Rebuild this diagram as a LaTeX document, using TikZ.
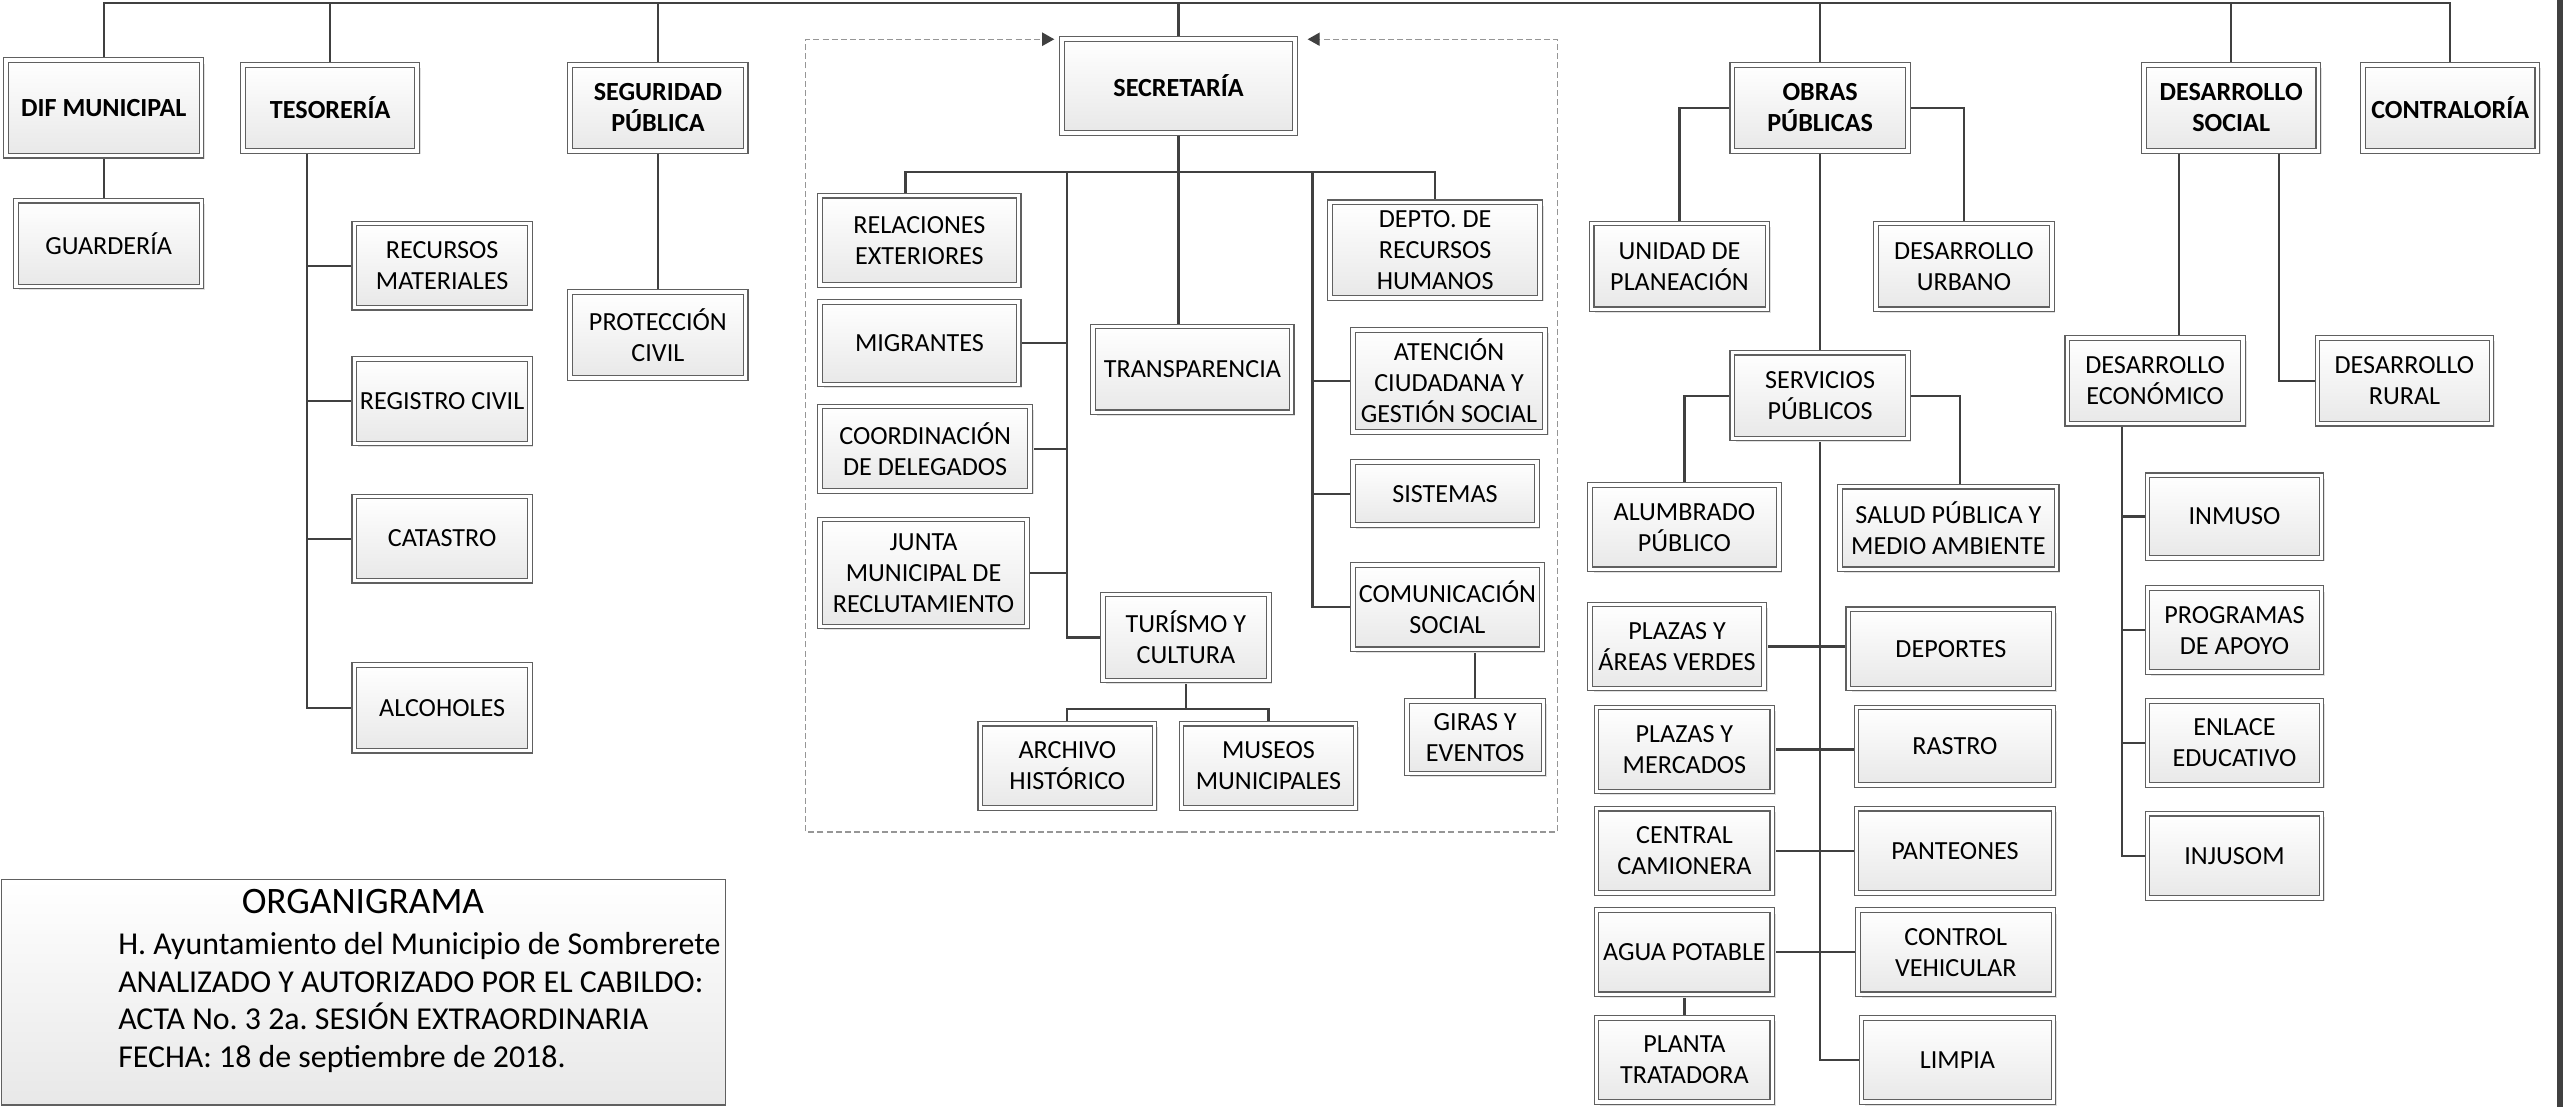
\documentclass[tikz,border=0pt]{standalone}
\usepackage{fontspec}
\setmainfont{Carlito}
\frenchspacing
\usetikzlibrary{arrows.meta,shadows,backgrounds}

\definecolor{linec}{RGB}{64,64,64}
\definecolor{boxc}{RGB}{96,96,96}
\definecolor{framec}{RGB}{150,150,150}

\tikzset{
  unit/.style={draw=boxc, line width=0.4pt, double=white, double distance=1.2pt,
    top color=white, bottom color=black!9, align=center, inner sep=1pt,
    font=\fontsize{9.1}{10.8}\selectfont,
    drop shadow={shadow xshift=1.2pt, shadow yshift=-1.2pt, fill=black!12, opacity=1}},
  head/.style={unit, font=\fontsize{9.1}{10.8}\selectfont\bfseries},
  wh/.style 2 args={minimum width=#1*0.02cm-2pt, minimum height=#2*0.02cm-2pt},
  link/.style={draw=linec, line width=0.75pt},
  frame/.style={draw=framec, line width=0.45pt, dash pattern=on 2.1pt off 1.1pt},
  infobox/.style={draw=boxc, line width=0.5pt, top color=white, bottom color=black!9,
    minimum width=8.86cm, minimum height=2.76cm},
}

\begin{document}
\begin{tikzpicture}[x=0.02cm,y=-0.02cm]
\useasboundingbox (0,0) rectangle (1568,677);

% first level
\node[head,wh={123}{62}] (dif) at (63.5,66) {DIF MUNICIPAL};
\node[head,wh={110}{56}] (teso) at (202,66) {TESORERÍA};
\node[head,wh={111}{56}] (segpub) at (402.5,66) {SEGURIDAD\\PÚBLICA};
\node[head,wh={146}{61}] (secre) at (721,52.5) {SECRETARÍA};
\node[head,wh={111}{56}] (obras) at (1113.5,66) {OBRAS\\PÚBLICAS};
\node[head,wh={110}{56}] (dessoc) at (1365,66) {DESARROLLO\\SOCIAL};
\node[head,wh={110}{56}] (contra) at (1499,66) {CONTRALORÍA};

% dif, tesoreria, seguridad
\node[unit,wh={117}{56}] (guard) at (66.5,149) {GUARDERÍA};
\node[unit,wh={111}{55}] (recmat) at (270.5,162.5) {RECURSOS\\MATERIALES};
\node[unit,wh={111}{55}] (regciv) at (270.5,245.5) {REGISTRO CIVIL};
\node[unit,wh={111}{55}] (catas) at (270.5,329.5) {CATASTRO};
\node[unit,wh={111}{56}] (alco) at (270.5,433) {ALCOHOLES};
\node[unit,wh={111}{56}] (protciv) at (402.5,205) {PROTECCIÓN\\CIVIL};

% secretaria
\node[unit,wh={125}{58}] (relext) at (562.5,147) {RELACIONES\\EXTERIORES};
\node[unit,wh={125}{54}] (migr) at (562.5,210) {MIGRANTES};
\node[unit,wh={132}{55}] (coord) at (566,274.5) {COORDINACIÓN\\DE DELEGADOS};
\node[unit,wh={130}{69}] (junta) at (565,350.5) {JUNTA\\MUNICIPAL DE\\RECLUTAMIENTO};
\node[unit,wh={125}{56}] (transp) at (729.5,226) {TRANSPARENCIA};
\node[unit,wh={105}{56}] (turis) at (725.5,390) {TURÍSMO Y\\CULTURA};
\node[unit,wh={110}{55}] (archi) at (653,468.5) {ARCHIVO\\HISTÓRICO};
\node[unit,wh={110}{55}] (museo) at (776,468.5) {MUSEOS\\MUNICIPALES};
\node[unit,wh={132}{62}] (rrhh) at (878,153) {DEPTO. DE\\RECURSOS\\HUMANOS};
\node[unit,wh={121}{66}] (atenc) at (886.5,233) {ATENCIÓN\\CIUDADANA Y\\GESTIÓN SOCIAL};
\node[unit,wh={116}{42}] (sistem) at (884,302) {SISTEMAS};
\node[unit,wh={119}{55}] (comun) at (885.5,371.5) {COMUNICACIÓN\\SOCIAL};
\node[unit,wh={87}{48}] (giras) at (902.5,451) {GIRAS Y\\EVENTOS};

% obras publicas
\node[unit,wh={111}{56}] (unipla) at (1027.5,163) {UNIDAD DE\\PLANEACIÓN};
\node[unit,wh={111}{56}] (desurb) at (1201.5,163) {DESARROLLO\\URBANO};
\node[unit,wh={111}{56}] (servpub) at (1113.5,242) {SERVICIOS\\PÚBLICOS};
\node[unit,wh={119}{55}] (alumb) at (1030.5,322.5) {ALUMBRADO\\PÚBLICO};
\node[unit,wh={136}{54}] (salud) at (1192,323) {SALUD PÚBLICA Y\\MEDIO AMBIENTE};
\node[unit,wh={110}{55}] (plazav) at (1026,395.5) {PLAZAS Y\\ÁREAS VERDES};
\node[unit,wh={129}{52}] (depor) at (1193.5,397) {DEPORTES};
\node[unit,wh={111}{55}] (plazam) at (1030.5,458.5) {PLAZAS Y\\MERCADOS};
\node[unit,wh={124}{51}] (rastro) at (1196,456.5) {RASTRO};
\node[unit,wh={111}{55}] (centr) at (1030.5,520.5) {CENTRAL\\CAMIONERA};
\node[unit,wh={124}{55}] (pante) at (1196,520.5) {PANTEONES};
\node[unit,wh={111}{55}] (agua) at (1030.5,582.5) {AGUA POTABLE};
\node[unit,wh={123}{55}] (contv) at (1196.5,582.5) {CONTROL\\VEHICULAR};
\node[unit,wh={111}{55}] (planta) at (1030.5,648.5) {PLANTA\\TRATADORA};
\node[unit,wh={121}{55}] (limpia) at (1197.5,648.5) {LIMPIA};

% desarrollo social
\node[unit,wh={111}{56}] (deseco) at (1318.5,233) {DESARROLLO\\ECONÓMICO};
\node[unit,wh={110}{56}] (desrur) at (1471,233) {DESARROLLO\\RURAL};
\node[unit,wh={110}{54}] (inmuso) at (1367,316) {INMUSO};
\node[unit,wh={110}{55}] (progra) at (1367,385.5) {PROGRAMAS\\DE APOYO};
\node[unit,wh={110}{55}] (enlace) at (1367,454.5) {ENLACE\\EDUCATIVO};
\node[unit,wh={110}{55}] (injusom) at (1367,523.5) {INJUSOM};

\begin{pgfonlayer}{background}
% top bar
\coordinate (top) at (0,1.7);
\draw[link] (dif.north) -- (dif.north |- top) -- (contra.north |- top) -- (contra.north);
\foreach \n in {teso,segpub,secre,obras,dessoc}
  \draw[link] (\n.north) -- (\n.north |- top);

\draw[link] (dif.south) -- (dif.south |- guard.north);
\coordinate (tb) at (188,0);
\draw[link] (tb |- teso.south) |- (alco.west);
\foreach \n in {recmat,regciv,catas}
  \draw[link] (\n.west) -- (\n.west -| tb);
\draw[link] (segpub.south) -- (protciv.north);

% secretaria
\coordinate (sl) at (554,105);
\coordinate (lb) at (653,105);
\coordinate (rb) at (803,105);
\draw[link] (secre.south) -- (secre.south |- transp.north);
\draw[link] (sl |- relext.north) -- (sl) -| (rrhh.north);
\draw[link] (lb) |- (turis.west);
\foreach \n in {migr,coord,junta}
  \draw[link] (\n.east) -- (\n.east -| lb);
\draw[link] (rb) |- (comun.west);
\foreach \n in {atenc,sistem}
  \draw[link] (\n.west) -- (\n.west -| rb);
\draw[link] (giras.north |- comun.south) -- (giras.north);
\coordinate (tc) at (0,434);
\draw[link] (turis.south) -- (turis.south |- tc);
\draw[link] (archi.north) |- (turis.south |- tc) -| (museo.north);

% obras publicas
\draw[link] (obras.west) -| (unipla.north);
\draw[link] (obras.east) -| (desurb.north);
\draw[link] (obras.south) -- (servpub.north);
\draw[link] (servpub.west) -| (alumb.north);
\draw[link] (servpub.east) -| (1199,0 |- salud.north);
\draw[link] (servpub.south) |- (limpia.west);
\foreach \a/\b in {plazav/depor,plazam/rastro,centr/pante,agua/contv}
  \draw[link] (\a.east) -- (\a.east -| \b.west);
\draw[link] (agua.south) -- (planta.north);

% desarrollo social
\coordinate (dl) at (1333,0);
\coordinate (dr) at (1394,0);
\coordinate (db) at (1298,0);
\draw[link] (dl |- dessoc.south) -- (dl |- deseco.north);
\draw[link] (dr |- dessoc.south) |- (desrur.west);
\draw[link] (db |- deseco.south) |- (injusom.west);
\foreach \n in {inmuso,progra,enlace}
  \draw[link] (\n.west) -- (\n.west -| db);
\end{pgfonlayer}

% dashed frame round secretaria
\draw[frame,-{Triangle[length=4.2pt,width=4.6pt,color=linec]}] (723,509) -| (493,24) -- (645,24);
\draw[frame,-{Triangle[length=4.2pt,width=4.6pt,color=linec]}] (723,509) -| (953,24) -- (800,24);

% legend
\node[infobox] (info) at (222.5,607) {};
\node[anchor=base, inner sep=0, font=\fontsize{13}{15}\selectfont] (title) at (222,558.6) {ORGANIGRAMA};
\foreach \t [count=\i] in {H. Ayuntamiento del Municipio de Sombrerete,
    ANALIZADO Y AUTORIZADO POR EL CABILDO:,
    ACTA No. 3 2a. SESIÓN EXTRAORDINARIA,
    FECHA: 18 de septiembre de 2018.}
  \node[anchor=base west, inner sep=0, font=\fontsize{11.1}{13.2}\selectfont] (line\i) at (72,561+23*\i) {\t};

\fill[linec] (1564.3,0) rectangle (1568,677);
\end{tikzpicture}
\end{document}
